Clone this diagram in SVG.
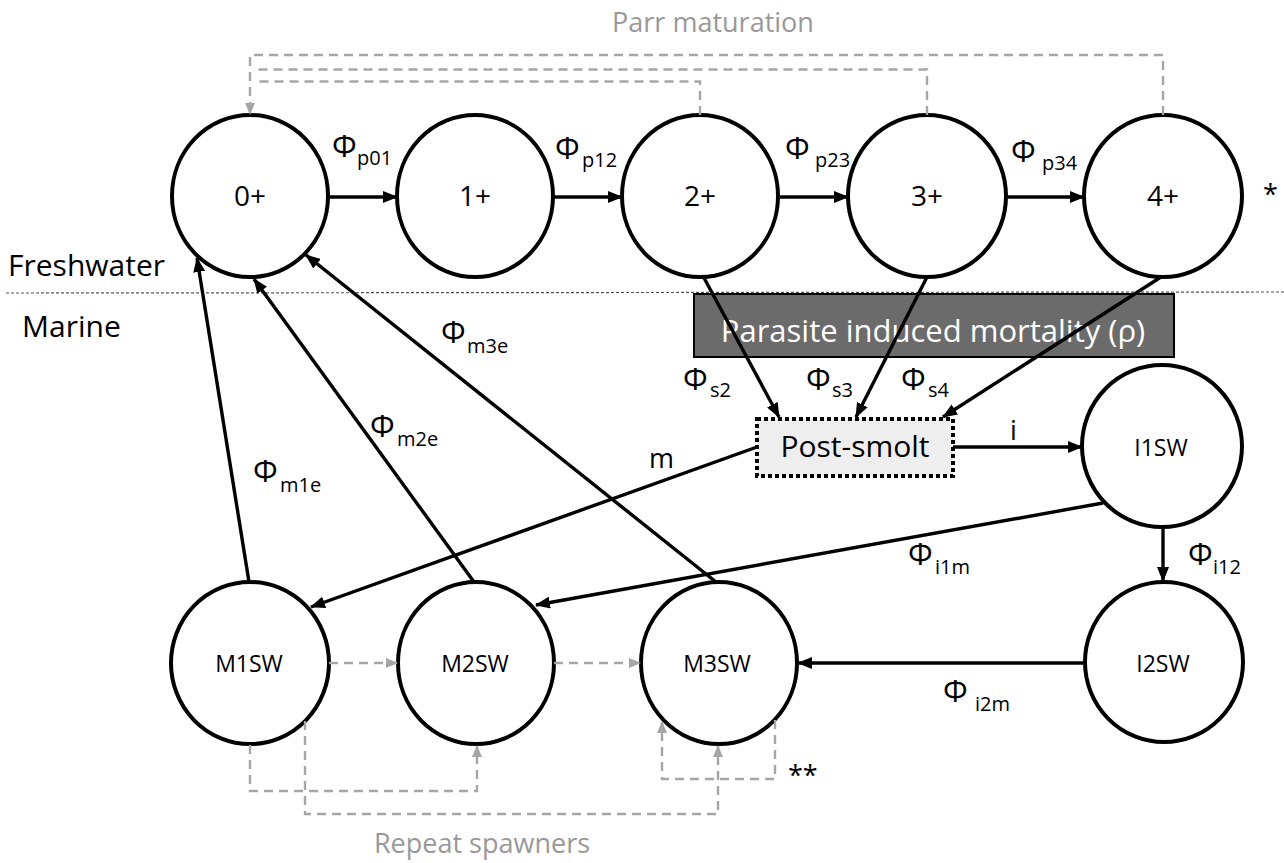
<svg xmlns="http://www.w3.org/2000/svg" width="1284" height="863" viewBox="0 0 1284 863">
<style>
text{font-family:"Open Sans","Noto Sans","Liberation Sans",sans-serif;fill:#000}
.node{fill:#fff;stroke:#000;stroke-width:4}
.lbl{font-size:28px;text-anchor:middle}
.sw{font-size:23px;text-anchor:middle}
.phi{font-size:31px}
.sub{font-size:20px}
.side{font-size:30px}
.gtxt{font-size:27px;fill:#999;text-anchor:middle}
.arr{fill:none;stroke:#000;stroke-width:3.4;marker-end:url(#ah)}
.garr{fill:none;stroke:#a6a6a6;stroke-width:2.4;stroke-dasharray:9 6}
.garrh{marker-end:url(#gah)}
</style>
<defs>
<marker id="ah" markerUnits="userSpaceOnUse" markerWidth="16" markerHeight="12" refX="14" refY="6" orient="auto">
<path d="M0,0 L15,6 L0,12 z" fill="#000"/>
</marker>
<marker id="gah" markerUnits="userSpaceOnUse" markerWidth="12" markerHeight="10" refX="11" refY="5" orient="auto">
<path d="M0,0 L12,5 L0,10 z" fill="#a6a6a6"/>
</marker>
</defs>
<rect width="1284" height="863" fill="#fff"/>

<g id="labels-top">
<text class="gtxt" x="713" y="32">Parr maturation</text>
<text class="gtxt" x="482" y="853">Repeat spawners</text>
<text class="side" x="8" y="276">Freshwater</text>
<text class="side" x="22" y="337">Marine</text>
<text font-size="27" x="1263" y="204">*</text>
<text font-size="27" x="788" y="785">**</text>
</g>

<line id="divider" x1="6" y1="293" x2="1284" y2="292" stroke="#555" stroke-width="1.2" stroke-dasharray="3 2"/>

<g id="parasite">
<rect x="694" y="294" width="480" height="63" fill="#6b6b6b" stroke="#000" stroke-width="2"/>
<text x="933" y="342" font-size="31" text-anchor="middle" fill="#fff" style="fill:#fff">Parasite induced mortality (ρ)</text>
</g>

<g id="n0"><ellipse class="node" cx="250" cy="196" rx="78" ry="81"/><text class="lbl" x="250" y="206">0+</text></g>
<g id="n1"><ellipse class="node" cx="475" cy="196" rx="78" ry="81"/><text class="lbl" x="475" y="206">1+</text></g>
<g id="n2"><ellipse class="node" cx="700" cy="196" rx="78" ry="81"/><text class="lbl" x="700" y="206">2+</text></g>
<g id="n3"><ellipse class="node" cx="927" cy="196" rx="79" ry="81"/><text class="lbl" x="927" y="206">3+</text></g>
<g id="n4"><ellipse class="node" cx="1163" cy="196" rx="79" ry="81"/><text class="lbl" x="1163" y="206">4+</text></g>

<g id="postsmolt">
<rect x="757" y="419" width="196" height="57" fill="#eeeeee" stroke="#000" stroke-width="4" stroke-dasharray="4 3"/>
<text x="855" y="457" font-size="30" text-anchor="middle">Post-smolt</text>
</g>

<g id="i1sw"><ellipse class="node" cx="1162" cy="446" rx="80" ry="81"/><text class="sw" x="1161" y="456">I1SW</text></g>
<g id="i2sw"><ellipse class="node" cx="1164" cy="662" rx="79" ry="80"/><text class="sw" x="1163" y="672">I2SW</text></g>
<g id="m1sw"><ellipse class="node" cx="250" cy="663" rx="79" ry="81"/><text class="sw" x="249" y="672">M1SW</text></g>
<g id="m2sw"><ellipse class="node" cx="476" cy="663" rx="78" ry="81"/><text class="sw" x="475" y="672">M2SW</text></g>
<g id="m3sw"><ellipse class="node" cx="719" cy="663" rx="78" ry="81"/><text class="sw" x="717" y="672">M3SW</text></g>

<g id="connectors">
<line class="arr" x1="328" y1="197" x2="397" y2="197"/>
<line class="arr" x1="553" y1="197" x2="622" y2="197"/>
<line class="arr" x1="778" y1="197" x2="848" y2="197"/>
<line class="arr" x1="1006" y1="197" x2="1084" y2="197"/>
<line class="arr" x1="703" y1="276" x2="779" y2="417"/>
<line class="arr" x1="927" y1="277" x2="856" y2="417"/>
<line class="arr" x1="1161" y1="277" x2="943" y2="417"/>
<line class="arr" x1="953" y1="447" x2="1082" y2="447"/>
<line class="arr" x1="757" y1="447" x2="311" y2="607"/>
<line class="arr" x1="1103" y1="503" x2="536" y2="605"/>
<line class="arr" x1="1163" y1="527" x2="1163" y2="581"/>
<line class="arr" x1="1085" y1="663" x2="798" y2="663"/>
<line class="arr" x1="249" y1="582" x2="197" y2="258"/>
<line class="arr" x1="474" y1="582" x2="254" y2="279"/>
<line class="arr" x1="716" y1="582" x2="306" y2="255"/>
<path class="garr garrh" d="M329,663 H397"/>
<path class="garr garrh" d="M554,663 H640"/>
<path class="garr garrh" d="M1163,115 V55 H250 V114"/>
<path class="garr" d="M927,115 V69.5 H258"/>
<path class="garr" d="M700,115 V81.5 H258"/>
<path class="garr garrh" d="M250,745 V791 H477 V746"/>
<path class="garr garrh" d="M305,721 V814 H718 V746"/>
<path class="garr garrh" d="M775,720 V779 H662 V722"/>
</g>

<g id="edge-labels">
<text class="phi" x="332" y="157">Φ<tspan class="sub" x="357" y="165">p01</tspan></text>
<text class="phi" x="555" y="159">Φ<tspan class="sub" x="582" y="167">p12</tspan></text>
<text class="phi" x="785" y="159">Φ<tspan class="sub" x="815" y="167">p23</tspan></text>
<text class="phi" x="1011" y="162">Φ<tspan class="sub" x="1042" y="170">p34</tspan></text>
<text class="phi" x="683" y="390">Φ<tspan class="sub" x="710" y="397">s2</tspan></text>
<text class="phi" x="806" y="390">Φ<tspan class="sub" x="832" y="397">s3</tspan></text>
<text class="phi" x="901" y="390">Φ<tspan class="sub" x="928" y="397">s4</tspan></text>
<text class="phi" x="253" y="482">Φ<tspan class="sub" x="280" y="492">m1e</tspan></text>
<text class="phi" x="370" y="437">Φ<tspan class="sub" x="397" y="446">m2e</tspan></text>
<text class="phi" x="441" y="343">Φ<tspan class="sub" x="467" y="353">m3e</tspan></text>
<text font-size="27" x="649" y="468">m</text>
<text font-size="27" x="1010" y="440">i</text>
<text class="phi" x="908" y="565">Φ<tspan class="sub" x="935" y="574">i1m</tspan></text>
<text class="phi" x="1188" y="565">Φ<tspan class="sub" x="1213" y="574">i12</tspan></text>
<text class="phi" x="943" y="702">Φ<tspan class="sub" x="975" y="711">i2m</tspan></text>
</g>
</svg>
